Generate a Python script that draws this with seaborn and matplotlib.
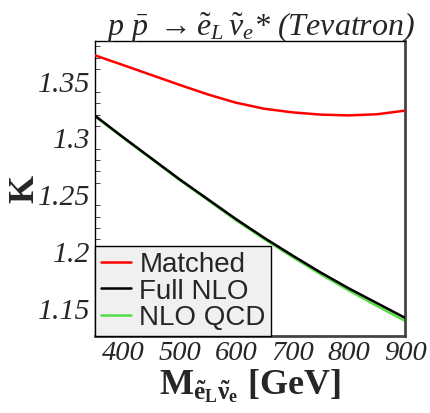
import numpy as np
import pandas as pd
import matplotlib
matplotlib.use("Agg")
import matplotlib.pyplot as plt
import seaborn as sns
from matplotlib.ticker import MultipleLocator

# ---- data ----
mass = [350, 400, 450, 500, 550, 600, 650, 700, 750, 800, 850, 900]
k_matched = [1.3722, 1.3636, 1.3549, 1.3462, 1.3378, 1.3305, 1.3252, 1.3220, 1.3200, 1.3193, 1.3203, 1.3235]
k_full_nlo = [1.3190, 1.3000, 1.2815, 1.2630, 1.2455, 1.2280, 1.2115, 1.1960, 1.1810, 1.1670, 1.1540, 1.1410]
k_nlo_qcd = [1.3185, 1.2995, 1.2810, 1.2625, 1.2448, 1.2270, 1.2105, 1.1947, 1.1795, 1.1652, 1.1515, 1.1383]
series_names = ["Matched", "Full NLO", "NLO QCD"]
x_ticks = [400, 500, 600, 700, 800, 900]
y_ticks = [1.15, 1.2, 1.25, 1.3, 1.35]
y_tick_labels = ["1.15", "1.2", "1.25", "1.3", "1.35"]

df = pd.DataFrame({
    "M": mass * 3,
    "K": k_matched + k_full_nlo + k_nlo_qcd,
    "series": [series_names[0]] * len(mass) + [series_names[1]] * len(mass) + [series_names[2]] * len(mass),
})

sns.set_style("white")
plt.rcParams["mathtext.fontset"] = "custom"
plt.rcParams["mathtext.rm"] = "Liberation Serif"
plt.rcParams["mathtext.it"] = "Liberation Serif:italic"
plt.rcParams["mathtext.bf"] = "Liberation Serif:bold"
plt.rcParams["font.family"] = ["Liberation Serif", "DejaVu Sans"]

fig = plt.figure(figsize=(4.3, 4.14), dpi=100)
ax = fig.add_axes([0.221, 0.186, 0.721, 0.713])

palette = {"Matched": "#ff0000", "Full NLO": "#000000", "NLO QCD": "#55dd44"}
sns.lineplot(data=df, x="M", y="K", hue="series", hue_order=series_names,
             palette=palette, linewidth=1.8, ax=ax, legend=True)
zorders = {"Matched": 4, "Full NLO": 3, "NLO QCD": 2}
for line, name in zip(ax.get_lines(), series_names):
    line.set_zorder(zorders[name])
    line.set_solid_joinstyle("round")

ax.set_xlim(350, 900)
ax.set_ylim(1.125, 1.385)
ax.set_xticks(x_ticks)
ax.set_yticks(y_ticks)
ax.set_yticklabels(y_tick_labels)
ax.yaxis.set_minor_locator(MultipleLocator(0.01))
ax.tick_params(axis="both", which="major", direction="in", length=7, width=0.8,
               labelsize=21.5, pad=3)
ax.tick_params(axis="x", which="major", length=8, labelsize=20.5)
ax.tick_params(axis="y", which="minor", direction="in", length=3.5, width=0.6, left=True)
for lab in ax.get_xticklabels() + ax.get_yticklabels():
    lab.set_fontstyle("italic")
    lab.set_fontfamily("Liberation Serif")

for s in ["left", "top"]:
    ax.spines[s].set_color("black")
    ax.spines[s].set_linewidth(1.0)
for s in ["right", "bottom"]:
    ax.spines[s].set_color("#444444")
    ax.spines[s].set_linewidth(2.0)

ax.set_xlabel(r"$\mathbf{M}_{\mathbf{\tilde{e}_L\tilde{\nu}_e}}$ [GeV]",
              fontsize=26, fontweight="bold", labelpad=1)
ax.set_ylabel("K", fontsize=26, fontweight="bold", labelpad=-2)
ax.set_title(r"$p\ \bar{p}\ \rightarrow\tilde{e}_L\,\tilde{\nu}_e$* (Tevatron)",
             fontsize=23, fontstyle="italic", pad=5, x=0.535)

handles, labels = ax.get_legend_handles_labels()
leg = ax.legend(handles, labels, loc="lower left", bbox_to_anchor=(0.0, 0.0),
                borderaxespad=0.0, frameon=True, fancybox=False,
                prop={"family": "Liberation Sans", "size": 20},
                handlelength=1.1, handletextpad=0.3, labelspacing=0.02,
                borderpad=0.2)
leg.get_frame().set_facecolor("#f0f0f0")
leg.get_frame().set_edgecolor("black")
leg.get_frame().set_alpha(1.0)
leg.get_frame().set_linewidth(1.0)
for h in leg.legend_handles:
    h.set_linewidth(1.8)

fig.savefig("out.png", dpi=100)
